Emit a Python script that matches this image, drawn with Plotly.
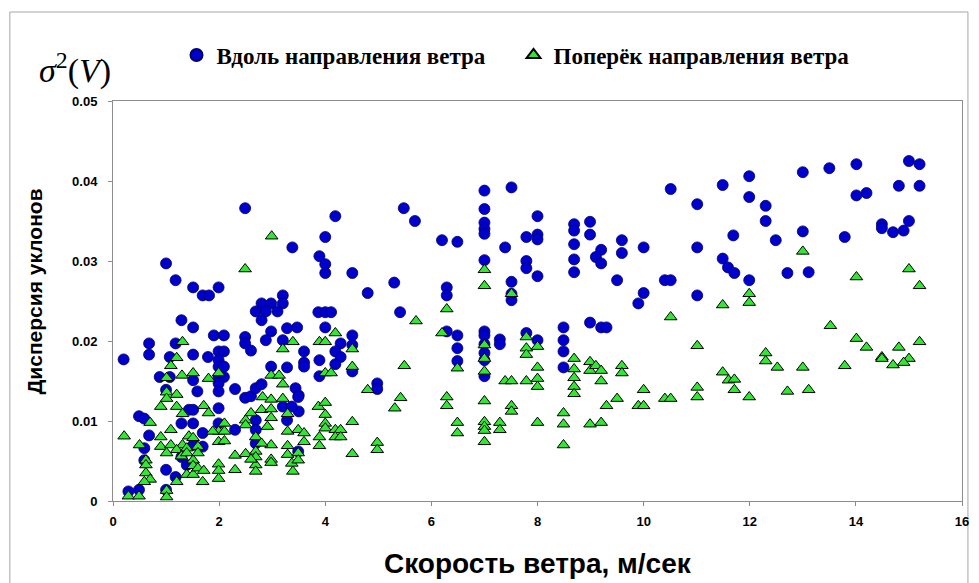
import plotly.graph_objects as go

# Wind speed (m/s) and slope variance, measured along the wind direction
along_x = [
    0.20, 2.49, 3.38, 1.00, 1.18, 1.51, 1.69, 1.81, 1.99, 3.20,
    2.80, 2.98, 3.20, 2.69, 2.88, 3.10, 2.80, 1.29, 1.51, 1.90,
    2.09, 2.49, 2.49, 2.60, 2.98, 2.88, 3.20, 3.28, 3.47, 0.68,
    0.68, 1.18, 1.51, 1.99, 2.09, 1.79, 1.99, 1.99, 2.09, 1.07,
    0.88, 1.07, 1.99, 2.09, 1.51, 1.99, 1.99, 1.00, 1.59, 2.30,
    2.49, 2.60, 2.69, 2.80, 3.28, 2.98, 3.20, 3.44, 0.49, 0.59,
    0.68, 0.59, 0.59, 1.29, 1.51, 1.43, 1.51, 1.99, 1.69, 1.99,
    2.30, 2.69, 2.69, 2.69, 3.28, 1.00, 1.00, 1.29, 1.18, 1.51,
    1.69, 1.39, 0.29, 0.49, 3.50, 3.50, 3.37, 3.49, 3.49,
    7.00, 7.00, 7.00, 7.00, 7.00, 7.00, 5.48, 5.69, 4.19, 4.00,
    3.89, 4.00, 4.00, 4.51, 4.80, 5.30, 6.20, 6.49, 6.29, 6.29,
    5.41, 3.87, 4.00, 4.11, 4.00, 4.51, 4.29, 4.51, 3.60, 3.60,
    3.60, 4.19, 4.29, 3.89, 4.19, 3.89, 4.51, 4.98, 4.98, 6.29,
    6.49, 6.49, 6.49, 7.00, 7.00, 7.00, 7.00, 7.00, 7.00,
    7.51, 10.51, 8.00, 7.39, 7.79, 8.00, 8.00, 7.79, 7.79, 8.00,
    7.51, 7.51, 7.51, 8.69, 8.69, 8.99, 8.99, 8.69, 8.69, 8.69,
    9.20, 9.10, 9.20, 9.59, 9.59, 10.00, 9.50, 10.00, 9.90, 10.40,
    10.51, 7.29, 7.29, 7.79, 8.00, 8.49, 8.49, 8.49, 8.49, 8.99,
    9.20, 9.30,
    11.01, 11.49, 11.99, 11.99, 12.30, 12.30, 13.00, 13.00, 11.69, 12.49,
    11.01, 11.49, 11.59, 11.71, 11.99, 11.01, 12.71, 13.11,
    13.50, 14.01, 14.01, 14.20, 15.00, 15.20, 14.81, 15.20, 13.79, 14.49,
    14.49, 14.70, 14.90, 15.00,
]
along_y = [
    0.0177, 0.0366, 0.0317, 0.0297, 0.0276, 0.0267, 0.0257, 0.0257, 0.0267, 0.0257,
    0.0247, 0.0247, 0.0247, 0.0237, 0.0237, 0.0237, 0.0226, 0.0226, 0.0217, 0.0207,
    0.0207, 0.0205, 0.0197, 0.0188, 0.0212, 0.0201, 0.0201, 0.0216, 0.0217, 0.0197,
    0.0183, 0.0197, 0.0183, 0.0187, 0.0187, 0.0180, 0.0176, 0.0168, 0.0168, 0.0180,
    0.0155, 0.0155, 0.0155, 0.0155, 0.0151, 0.0147, 0.0137, 0.0139, 0.0137, 0.0140,
    0.0129, 0.0131, 0.0141, 0.0146, 0.0167, 0.0168, 0.0118, 0.0141, 0.0106, 0.0103,
    0.0082, 0.0066, 0.0051, 0.0097, 0.0097, 0.0114, 0.0114, 0.0116, 0.0085, 0.0097,
    0.0089, 0.0101, 0.0089, 0.0072, 0.0101, 0.0039, 0.0014, 0.0055, 0.0030, 0.0070,
    0.0068, 0.0045, 0.0012, 0.0014, 0.0132, 0.0112, 0.0118, 0.0130, 0.0062,
    0.0388, 0.0365, 0.0348, 0.0340, 0.0334, 0.0301, 0.0366, 0.0350, 0.0356, 0.0330,
    0.0306, 0.0296, 0.0285, 0.0285, 0.0260, 0.0273, 0.0326, 0.0324, 0.0267, 0.0257,
    0.0236, 0.0236, 0.0236, 0.0236, 0.0217, 0.0207, 0.0197, 0.0195, 0.0187, 0.0173,
    0.0168, 0.0187, 0.0180, 0.0176, 0.0171, 0.0156, 0.0162, 0.0147, 0.0140, 0.0212,
    0.0207, 0.0191, 0.0175, 0.0212, 0.0207, 0.0196, 0.0185, 0.0176, 0.0156,
    0.0392, 0.0390, 0.0356, 0.0317, 0.0330, 0.0333, 0.0327, 0.0300, 0.0291, 0.0281,
    0.0274, 0.0259, 0.0251, 0.0346, 0.0338, 0.0349, 0.0333, 0.0321, 0.0302, 0.0286,
    0.0314, 0.0305, 0.0297, 0.0326, 0.0310, 0.0317, 0.0276, 0.0260, 0.0247, 0.0276,
    0.0276, 0.0202, 0.0196, 0.0210, 0.0201, 0.0217, 0.0201, 0.0187, 0.0167, 0.0223,
    0.0217, 0.0217,
    0.0371, 0.0395, 0.0406, 0.0380, 0.0369, 0.0350, 0.0411, 0.0337, 0.0332, 0.0326,
    0.0317, 0.0303, 0.0292, 0.0285, 0.0276, 0.0257, 0.0285, 0.0286,
    0.0416, 0.0421, 0.0382, 0.0385, 0.0425, 0.0421, 0.0394, 0.0394, 0.0330, 0.0346,
    0.0341, 0.0336, 0.0338, 0.0350,
]

# Wind speed (m/s) and slope variance, measured across the wind direction
across_x = [
    2.99, 2.49, 1.31, 3.39, 3.20, 1.20, 1.09, 1.30, 1.51, 1.01,
    1.80, 1.99, 2.98, 3.13, 3.20, 1.01, 1.20, 1.01, 0.90, 1.20,
    1.31, 1.71, 1.80, 2.82, 2.98, 3.20, 2.60, 2.80, 2.98, 2.98,
    3.29, 0.70, 0.21, 0.50, 0.90, 0.90, 1.09, 1.09, 1.43, 1.51,
    2.10, 1.99, 2.10, 1.88, 1.99, 2.10, 2.50, 2.50, 2.69, 2.91,
    2.98, 3.29, 1.31, 1.20, 1.39, 1.60, 1.01, 0.62, 0.62, 0.62,
    0.70, 0.59, 0.29, 0.49, 1.01, 1.01, 1.20, 1.29, 1.39, 1.51,
    1.51, 1.60, 1.39, 1.51, 1.69, 1.60, 1.71, 1.99, 1.99, 1.99,
    2.30, 2.30, 2.50, 2.69, 2.69, 2.69, 2.69, 2.60, 2.80, 2.98,
    2.98, 3.29, 3.29, 3.39,
    7.00, 7.00, 6.29, 5.71, 6.20, 4.19, 3.89, 4.00, 4.51, 4.51,
    5.49, 4.00, 4.11, 6.49, 7.00, 7.00, 7.00, 4.80, 5.42, 5.31,
    6.29, 6.29, 7.00, 3.87, 4.00, 4.00, 4.00, 4.00, 4.51, 3.49,
    3.60, 3.60, 4.19, 4.29, 4.19, 4.29, 3.89, 3.89, 4.51, 4.98,
    4.98, 6.49, 6.49, 7.00, 7.00, 7.00, 7.00, 3.37, 3.49, 3.49,
    7.51, 10.51, 7.79, 7.79, 7.79, 8.00, 7.39, 7.51, 7.79, 8.00,
    8.00, 8.00, 8.69, 8.69, 8.69, 8.69, 8.69, 8.99, 8.99, 9.10,
    9.20, 9.20, 9.59, 9.59, 7.29, 7.29, 7.51, 7.51, 8.00, 8.49,
    8.49, 8.49, 8.99, 9.20, 9.30, 9.50, 9.90, 10.00, 10.00, 10.40,
    10.51,
    13.00, 11.99, 11.99, 11.49, 11.01, 12.30, 12.30, 12.52, 13.00, 11.49,
    11.60, 11.71, 11.71, 11.01, 11.01, 11.99, 12.71, 13.11,
    14.01, 15.00, 15.20, 13.52, 14.01, 14.20, 15.20, 14.81, 14.49, 14.49,
    15.00, 14.90, 14.70, 13.79,
]
across_y = [
    0.0331, 0.0290, 0.0199, 0.0199, 0.0190, 0.0179, 0.0169, 0.0157, 0.0160, 0.0154,
    0.0153, 0.0160, 0.0157, 0.0157, 0.0146, 0.0136, 0.0133, 0.0128, 0.0118, 0.0118,
    0.0109, 0.0119, 0.0110, 0.0130, 0.0127, 0.0128, 0.0110, 0.0114, 0.0115, 0.0104,
    0.0109, 0.0098, 0.0081, 0.0070, 0.0080, 0.0068, 0.0089, 0.0070, 0.0081, 0.0079,
    0.0097, 0.0087, 0.0087, 0.0087, 0.0074, 0.0075, 0.0101, 0.0095, 0.0080, 0.0093,
    0.0070, 0.0087, 0.0070, 0.0064, 0.0066, 0.0068, 0.0060, 0.0051, 0.0045, 0.0035,
    0.0027, 0.0024, 0.0006, 0.0006, 0.0013, 0.0005, 0.0024, 0.0056, 0.0060, 0.0051,
    0.0044, 0.0060, 0.0033, 0.0033, 0.0024, 0.0041, 0.0038, 0.0046, 0.0038, 0.0028,
    0.0057, 0.0039, 0.0059, 0.0062, 0.0055, 0.0045, 0.0037, 0.0052, 0.0072, 0.0052,
    0.0048, 0.0069, 0.0058, 0.0037,
    0.0289, 0.0269, 0.0240, 0.0225, 0.0210, 0.0210, 0.0199, 0.0199, 0.0190, 0.0168,
    0.0169, 0.0160, 0.0160, 0.0166, 0.0195, 0.0178, 0.0162, 0.0139, 0.0129, 0.0116,
    0.0130, 0.0119, 0.0125, 0.0118, 0.0123, 0.0108, 0.0097, 0.0091, 0.0099, 0.0089,
    0.0085, 0.0074, 0.0089, 0.0089, 0.0080, 0.0080, 0.0080, 0.0069, 0.0059, 0.0073,
    0.0064, 0.0098, 0.0085, 0.0099, 0.0093, 0.0088, 0.0074, 0.0047, 0.0060, 0.0051,
    0.0259, 0.0230, 0.0205, 0.0191, 0.0183, 0.0193, 0.0150, 0.0150, 0.0150, 0.0167,
    0.0153, 0.0143, 0.0178, 0.0165, 0.0154, 0.0143, 0.0134, 0.0174, 0.0163, 0.0169,
    0.0163, 0.0150, 0.0169, 0.0160, 0.0098, 0.0089, 0.0119, 0.0112, 0.0098, 0.0110,
    0.0096, 0.0070, 0.0096, 0.0098, 0.0119, 0.0128, 0.0119, 0.0119, 0.0139, 0.0128,
    0.0128,
    0.0312, 0.0259, 0.0248, 0.0245, 0.0194, 0.0185, 0.0175, 0.0167, 0.0167, 0.0161,
    0.0151, 0.0152, 0.0139, 0.0142, 0.0130, 0.0130, 0.0137, 0.0139,
    0.0280, 0.0290, 0.0269, 0.0219, 0.0203, 0.0192, 0.0199, 0.0192, 0.0180, 0.0178,
    0.0178, 0.0173, 0.0170, 0.0169,
]

x_ticks = [0, 2, 4, 6, 8, 10, 12, 14, 16]
y_ticks = [0, 0.01, 0.02, 0.03, 0.04, 0.05]

fig = go.Figure()
fig.add_trace(go.Scatter(
    x=along_x, y=along_y, mode="markers",
    name="Вдоль направления ветра",
    marker=dict(symbol="circle", size=11, color="#0000CC",
                line=dict(color="#000066", width=0.8)),
))
fig.add_trace(go.Scatter(
    x=across_x, y=across_y, mode="markers",
    name="Поперёк направления ветра",
    marker=dict(symbol="triangle-up", size=11, color="#33E633",
                line=dict(color="#000000", width=1)),
))

tick_font = dict(family="Liberation Sans, Arial", size=13, color="#000000", weight="bold")
axis_common = dict(
    showgrid=False, zeroline=False, showline=True, linecolor="#8C8C8C",
    linewidth=1, mirror=True, ticks="outside", ticklen=4, tickcolor="#8C8C8C",
    tickfont=tick_font,
)

fig.update_layout(
    width=979, height=583,
    margin=dict(l=113, r=10, t=101, b=82),
    paper_bgcolor="#FFFFFF", plot_bgcolor="#FFFFFF",
    showlegend=True,
    legend=dict(
        orientation="h", x=0.0748, y=1.115, xanchor="left", yanchor="middle",
        entrywidth=292, entrywidthmode="pixels",
        font=dict(family="Liberation Serif, Times New Roman", size=23, color="#000000",
                  weight="bold"),
        bgcolor="rgba(0,0,0,0)", itemsizing="constant",
    ),
    xaxis=dict(range=[0, 16], tickvals=x_ticks, ticktext=[str(v) for v in x_ticks],
               ticklabelstandoff=4, **axis_common),
    yaxis=dict(range=[0, 0.05], tickvals=y_ticks,
               ticktext=["0" if v == 0 else f"{v:.2f}" for v in y_ticks],
               ticklabelstandoff=8, **axis_common),
)

# Axis titles and the variance symbol
fig.add_annotation(
    text="Скорость ветра, м/сек", xref="paper", yref="paper",
    x=0.5, y=-0.155, xanchor="center", yanchor="middle", showarrow=False,
    font=dict(family="Liberation Sans, Arial", size=28, color="#000000", weight="bold"),
)
fig.add_annotation(
    text="Дисперсия уклонов", xref="paper", yref="paper",
    x=-0.0935, y=0.5225, xanchor="center", yanchor="middle", showarrow=False,
    textangle=-90,
    font=dict(family="Liberation Sans, Arial", size=21, color="#000000", weight="bold"),
)
fig.add_annotation(
    text="<i>σ</i><sup>2</sup>(<i>V</i>)", xref="paper", yref="paper",
    x=-0.045, y=1.08, xanchor="center", yanchor="middle", showarrow=False,
    font=dict(family="Liberation Serif, Times New Roman", size=34, color="#000000"),
)

# Outer chart frame
fig.add_shape(
    type="rect", xref="paper", yref="paper",
    x0=(9 - 113) / 856, x1=(975 - 113) / 856, y0=-0.3, y1=(501 - 12) / 400,
    line=dict(color="#A6A6A6", width=1), fillcolor="rgba(0,0,0,0)", layer="below",
)

fig.write_html("out.html")
